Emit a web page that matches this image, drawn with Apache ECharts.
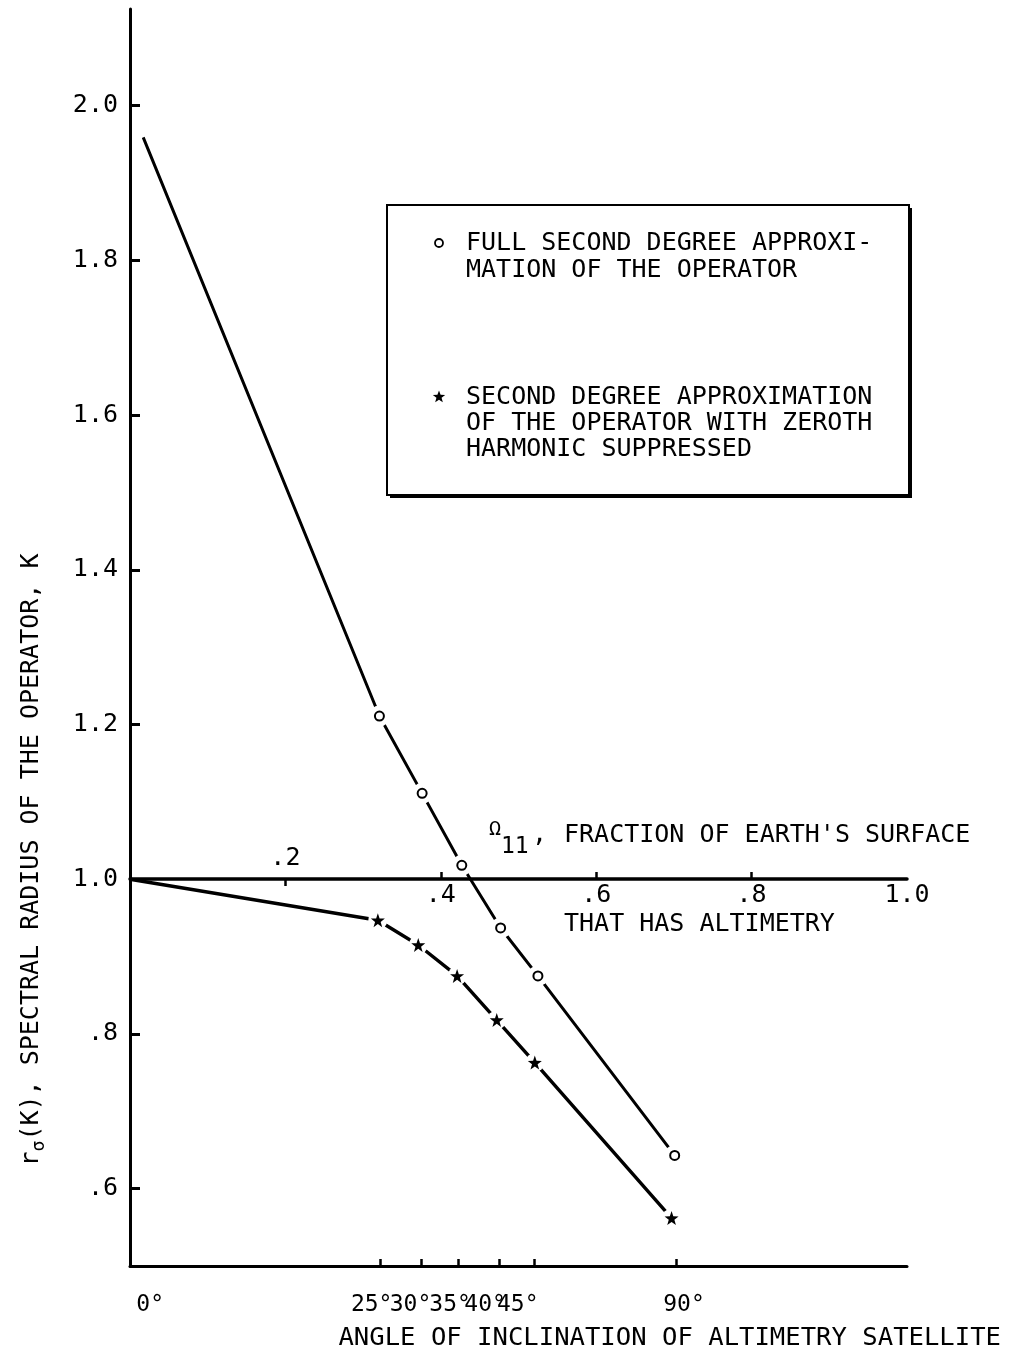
<!DOCTYPE html>
<html>
<head>
<meta charset="utf-8">
<script src="https://cdn.jsdelivr.net/npm/echarts@6/dist/echarts.min.js"></script>
<style>
html,body{margin:0;padding:0;background:#fff;}
#chart{width:1009px;height:1354px;}
</style>
</head>
<body>
<div id="chart"></div>
<script>
// ---- data ----
// x = fraction of Earth's surface that has altimetry (Omega_11)
const fullX = [0.017, 0.321, 0.376, 0.427, 0.477, 0.525, 0.701];
const fullY = [1.959, 1.211, 1.111, 1.018, 0.937, 0.875, 0.643];
const supX  = [0.000, 0.319, 0.371, 0.421, 0.472, 0.521, 0.697];
const supY  = [1.000, 0.947, 0.915, 0.875, 0.818, 0.763, 0.562];
const angleLabels = ['0°', '25°', '30°', '35°', '40°', '45°', '90°'];
const angleLabelX = [0.026, 0.311, 0.361, 0.412, 0.457, 0.499, 0.713];
const angleTickX  = [0.322, 0.375, 0.423, 0.475, 0.520, 0.703];
const yTicks = [0.6, 0.8, 1.0, 1.2, 1.4, 1.6, 1.8, 2.0];
const omegaTicksBelow = [0.4, 0.6, 0.8];
const omegaLabelsBelow = [0.4, 0.6, 0.8, 1.0];
const omegaAbove = [0.2];
const legendFull = ['FULL SECOND DEGREE APPROXI-', 'MATION OF THE OPERATOR'];
const legendSup = ['SECOND DEGREE APPROXIMATION', 'OF THE OPERATOR WITH ZEROTH', 'HARMONIC SUPPRESSED'];
const yTitle = ['r', 'σ', '(K), SPECTRAL RADIUS OF THE OPERATOR, K'];
const xTitle = 'ANGLE OF INCLINATION OF ALTIMETRY SATELLITE';
const omegaTitle = ['Ω', '11', ',', "FRACTION OF EARTH'S SURFACE", 'THAT HAS ALTIMETRY'];

// ---- style ----
const FONT = 'DejaVu Sans Mono';
const FS = 25;
const INK = '#000';
const STAR = 'path://M0,-10L2.35,-3.24L9.51,-3.09L3.8,1.24L5.88,8.09L0,4L-5.88,8.09L-3.8,1.24L-9.51,-3.09L-2.35,-3.24Z';

const zip = (xs, ys) => xs.map((x, i) => [x, ys[i]]);
const fullPts = zip(fullX, fullY);
const supPts = zip(supX, supY);
const fullMarks = fullPts.slice(1);
const supMarks = supPts.slice(1);

function fracLabel(v) {
  return v >= 0.999 ? '1.0' : '.' + Math.round(v * 10);
}
function nearestIdx(arr, v) {
  let b = 0;
  for (let i = 1; i < arr.length; i++) if (Math.abs(arr[i] - v) < Math.abs(arr[b] - v)) b = i;
  return b;
}
function starPoints(cx, cy, R, r) {
  const pts = [];
  for (let i = 0; i < 10; i++) {
    const a = -Math.PI / 2 + i * Math.PI / 5;
    const rr = i % 2 === 0 ? R : r;
    pts.push([cx + rr * Math.cos(a), cy + rr * Math.sin(a)]);
  }
  return pts;
}

const txt = (size) => ({ fontFamily: FONT, fontSize: size, color: INK });

const chart = echarts.init(document.getElementById('chart'), null, { renderer: 'canvas' });

const GL = 130, GW = 777, GT = 9, GH = 1257;
const Y1 = 879; // pixel row of r = 1.0 (Omega axis)

const option = {
  backgroundColor: '#fff',
  animation: false,
  grid: [
    { left: GL, top: GT, width: GW, height: GH },
    { left: GL, top: GT, width: GW, height: Y1 - GT },
    { left: GL, top: Y1, width: GW, height: GT + GH - Y1 }
  ],
  xAxis: [
    {
      gridIndex: 0, type: 'value', min: 0, max: 1, position: 'bottom',
      axisLine: { show: true, lineStyle: { color: INK, width: 3 } },
      axisTick: { show: true, inside: true, length: 7, customValues: angleTickX, lineStyle: { color: INK, width: 2.5 } },
      axisLabel: {
        show: true, customValues: angleLabelX, margin: 28, ...txt(23),
        formatter: (v) => angleLabels[nearestIdx(angleLabelX, v)]
      },
      splitLine: { show: false }
    },
    {
      gridIndex: 1, type: 'value', min: 0, max: 1, position: 'bottom',
      axisLine: { show: true, lineStyle: { color: INK, width: 3.5 } },
      axisTick: { show: true, inside: true, length: 7, customValues: omegaTicksBelow, lineStyle: { color: INK, width: 2.5 } },
      axisLabel: { show: true, customValues: omegaLabelsBelow, margin: 4, ...txt(FS), formatter: fracLabel },
      splitLine: { show: false }
    },
    {
      gridIndex: 2, type: 'value', min: 0, max: 1, position: 'top',
      axisLine: { show: false },
      axisTick: { show: true, inside: true, length: 7, customValues: omegaAbove, lineStyle: { color: INK, width: 2.5 } },
      axisLabel: { show: true, customValues: omegaAbove, margin: 8, ...txt(FS), formatter: fracLabel },
      splitLine: { show: false }
    }
  ],
  yAxis: [
    {
      gridIndex: 0, type: 'value', min: 0.5, max: 2.125,
      axisLine: { show: true, lineStyle: { color: INK, width: 3 } },
      axisTick: { show: true, inside: true, length: 10, customValues: yTicks, lineStyle: { color: INK, width: 3 } },
      axisLabel: {
        show: true, customValues: yTicks, margin: 12, ...txt(FS),
        formatter: (v) => (v < 0.999 ? '.' + Math.round(v * 10) : v.toFixed(1))
      },
      splitLine: { show: false }
    },
    { gridIndex: 1, type: 'value', min: 1, max: 2.125, show: false },
    { gridIndex: 2, type: 'value', min: 0.5, max: 1, show: false }
  ],
  series: [
    {
      name: 'Full second degree approximation', type: 'line', xAxisIndex: 0, yAxisIndex: 0,
      data: fullPts, showSymbol: false, symbol: 'none', z: 2,
      lineStyle: { color: INK, width: 3 }
    },
    {
      name: 'Zeroth harmonic suppressed', type: 'line', xAxisIndex: 0, yAxisIndex: 0,
      data: supPts, showSymbol: false, symbol: 'none', z: 2,
      lineStyle: { color: INK, width: 3.4 }
    },
    {
      name: 'gap-full', type: 'scatter', xAxisIndex: 0, yAxisIndex: 0, data: fullMarks,
      symbol: 'circle', symbolSize: 21, itemStyle: { color: '#fff', opacity: 1 }, z: 3, silent: true
    },
    {
      name: 'gap-sup', type: 'scatter', xAxisIndex: 0, yAxisIndex: 0, data: supMarks,
      symbol: 'circle', symbolSize: 19, itemStyle: { color: '#fff', opacity: 1 }, z: 3, silent: true
    },
    {
      name: 'Full second degree approximation', type: 'scatter', xAxisIndex: 0, yAxisIndex: 0, data: fullMarks,
      symbol: 'circle', symbolSize: 9, itemStyle: { color: '#fff', borderColor: INK, borderWidth: 2, opacity: 1 }, z: 4
    },
    {
      name: 'Zeroth harmonic suppressed', type: 'scatter', xAxisIndex: 0, yAxisIndex: 0, data: supMarks,
      symbol: STAR, symbolSize: 14, itemStyle: { color: INK, opacity: 1 }, z: 4
    }
  ],
  graphic: [
    {
      type: 'rect', z: 10,
      shape: { x: 390, y: 208, width: 522, height: 290 },
      style: { fill: INK }
    },
    {
      type: 'rect', z: 10,
      shape: { x: 387, y: 205, width: 522, height: 290 },
      style: { fill: '#fff', stroke: INK, lineWidth: 2 }
    },
    {
      type: 'circle', z: 11, shape: { cx: 439, cy: 243, r: 4 },
      style: { fill: '#fff', stroke: INK, lineWidth: 1.8 }
    },
    {
      type: 'polygon', z: 11, shape: { points: starPoints(439, 397, 6.5, 2.7) },
      style: { fill: INK }
    },
    ...legendFull.map((t, i) => ({
      type: 'text', z: 11, x: 466, y: 243 + i * 27,
      style: { text: t, fontFamily: FONT, fontSize: FS, fill: INK, align: 'left', verticalAlign: 'middle' }
    })),
    ...legendSup.map((t, i) => ({
      type: 'text', z: 11, x: 466, y: 397 + i * 26,
      style: { text: t, fontFamily: FONT, fontSize: FS, fill: INK, align: 'left', verticalAlign: 'middle' }
    })),
    {
      type: 'text', z: 11, x: 31, y: 860, rotation: Math.PI / 2,
      style: {
        text: '{m|' + yTitle[0] + '}{s|' + yTitle[1] + '}{m|' + yTitle[2] + '}',
        align: 'center', verticalAlign: 'middle',
        rich: {
          m: { fontFamily: FONT, fontSize: FS, fill: INK },
          s: { fontFamily: FONT, fontSize: 18, fill: INK, padding: [16, 0, 0, 0] }
        }
      }
    },
    {
      type: 'text', z: 11, x: 1001, y: 1338,
      style: { text: xTitle, fontFamily: FONT, fontSize: 25.6, fill: INK, align: 'right', verticalAlign: 'middle' }
    },
    {
      type: 'text', z: 11, x: 495, y: 830,
      style: { text: omegaTitle[0], fontFamily: FONT, fontSize: 20, fill: INK, align: 'center', verticalAlign: 'middle' }
    },
    {
      type: 'text', z: 11, x: 501, y: 847,
      style: { text: omegaTitle[1], fontFamily: FONT, fontSize: 23, fill: INK, align: 'left', verticalAlign: 'middle' }
    },
    {
      type: 'text', z: 11, x: 532, y: 835,
      style: { text: omegaTitle[2], fontFamily: FONT, fontSize: FS, fill: INK, align: 'left', verticalAlign: 'middle' }
    },
    {
      type: 'text', z: 11, x: 564, y: 835,
      style: { text: omegaTitle[3], fontFamily: FONT, fontSize: FS, fill: INK, align: 'left', verticalAlign: 'middle' }
    },
    {
      type: 'text', z: 11, x: 564, y: 924,
      style: { text: omegaTitle[4], fontFamily: FONT, fontSize: FS, fill: INK, align: 'left', verticalAlign: 'middle' }
    }
  ]
};
chart.setOption(option);
</script>
</body>
</html>
